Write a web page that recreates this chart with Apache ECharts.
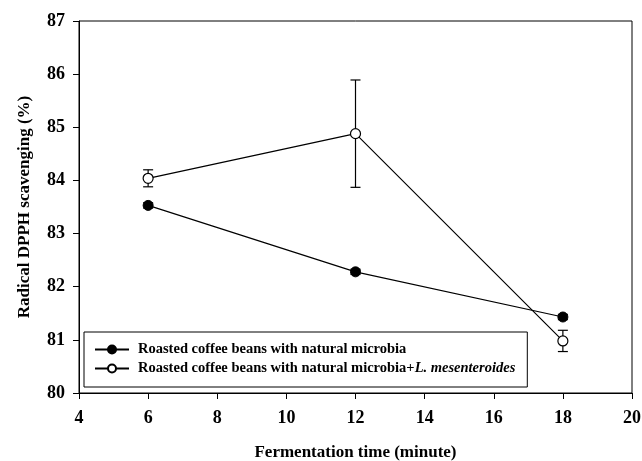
<!DOCTYPE html>
<html>
<head>
<meta charset="utf-8">
<script src="https://cdn.jsdelivr.net/npm/echarts@6/dist/echarts.min.js"></script>
<style>
  html, body { margin: 0; padding: 0; background: #fff; }
  #chart { width: 642px; height: 461px; }
</style>
</head>
<body>
<div id="chart"></div>
<script>
// fermentation time (minute)
var times = [6, 12, 18];
// natural microbia
var naturalMean = [83.53, 82.28, 81.43];
var naturalErr = [0.05, 0.05, 0.05];
// natural microbia + L. mesenteroides
var lmesMean = [84.04, 84.88, 80.98];
var lmesErr = [0.16, 1.01, 0.2];

var FONT = "Liberation Serif";

function pairs(xs, ys) {
  return xs.map(function (x, i) { return [x, ys[i]]; });
}
function errData(xs, ys, es) {
  return xs.map(function (x, i) { return [x, ys[i] - es[i], ys[i] + es[i]]; });
}

// error bars with caps
function renderErr(params, api) {
  var lo = api.coord([api.value(0), api.value(1)]);
  var hi = api.coord([api.value(0), api.value(2)]);
  var w = 5;
  var style = { stroke: "#000", lineWidth: 1.2 };
  return {
    type: "group",
    children: [
      { type: "line", shape: { x1: lo[0], y1: lo[1], x2: hi[0], y2: hi[1] }, style: style },
      { type: "line", shape: { x1: lo[0] - w, y1: lo[1], x2: lo[0] + w, y2: lo[1] }, style: style },
      { type: "line", shape: { x1: hi[0] - w, y1: hi[1], x2: hi[0] + w, y2: hi[1] }, style: style }
    ]
  };
}

var chart = echarts.init(document.getElementById("chart"));
var option = {
  backgroundColor: "#fff",
  animation: false,
  grid: {
    left: 79, right: 10, top: 21, bottom: 68,
    outerBoundsMode: "none",
    show: true, borderColor: "#000", borderWidth: 1
  },
  xAxis: {
    type: "value",
    min: 4, max: 20, interval: 2,
    name: "Fermentation time (minute)",
    nameLocation: "middle",
    nameGap: 51,
    nameTextStyle: { fontFamily: FONT, fontWeight: "bold", fontSize: 17, color: "#000" },
    axisLine: { lineStyle: { color: "#000", width: 1 } },
    axisTick: { inside: false, length: 6, lineStyle: { color: "#000" } },
    axisLabel: { fontFamily: FONT, fontWeight: "bold", fontSize: 18, color: "#000", margin: 16 },
    splitLine: { show: false }
  },
  yAxis: {
    type: "value",
    min: 80, max: 87, interval: 1,
    name: "Radical DPPH scavenging (%)",
    nameLocation: "middle",
    nameGap: 46,
    nameTextStyle: { fontFamily: FONT, fontWeight: "bold", fontSize: 17, color: "#000" },
    axisLine: { show: true, lineStyle: { color: "#000", width: 1 } },
    axisTick: { show: true, inside: false, length: 6, lineStyle: { color: "#000" } },
    axisLabel: { fontFamily: FONT, fontWeight: "bold", fontSize: 18, color: "#000", margin: 14 },
    splitLine: { show: false }
  },
  legend: {
    orient: "vertical",
    left: 84, top: 332,
    padding: [10, 12, 11, 10],
    itemGap: 4,
    itemWidth: 34, itemHeight: 10,
    borderColor: "#000", borderWidth: 1,
    data: ["natural", "lmes"],
    formatter: function (name) {
      if (name === "natural") return "{a|Roasted coffee beans with natural microbia}";
      return "{a|Roasted coffee beans with natural microbia+}{b|L. mesenteroides}";
    },
    textStyle: {
      padding: [0, 0, 0, 4],
      rich: {
        a: { fontFamily: FONT, fontWeight: "bold", fontSize: 14.5, color: "#000" },
        b: { fontFamily: FONT, fontWeight: "bold", fontStyle: "italic", fontSize: 14.5, color: "#000" }
      }
    }
  },
  series: [
    {
      name: "natural",
      type: "line",
      data: pairs(times, naturalMean),
      symbol: "circle",
      symbolSize: 10,
      lineStyle: { color: "#000", width: 1.2 },
      itemStyle: { color: "#000", borderColor: "#000", borderWidth: 1 },
      z: 3
    },
    {
      name: "lmes",
      type: "line",
      data: pairs(times, lmesMean),
      symbol: "circle",
      symbolSize: 10,
      lineStyle: { color: "#000", width: 1.2 },
      itemStyle: { color: "#fff", borderColor: "#000", borderWidth: 1.2 },
      z: 3
    },
    {
      type: "custom",
      renderItem: renderErr,
      data: errData(times, naturalMean, naturalErr),
      encode: { x: 0, y: [1, 2] },
      z: 2
    },
    {
      type: "custom",
      renderItem: renderErr,
      data: errData(times, lmesMean, lmesErr),
      encode: { x: 0, y: [1, 2] },
      z: 2
    }
  ]
};
chart.setOption(option);
</script>
</body>
</html>
